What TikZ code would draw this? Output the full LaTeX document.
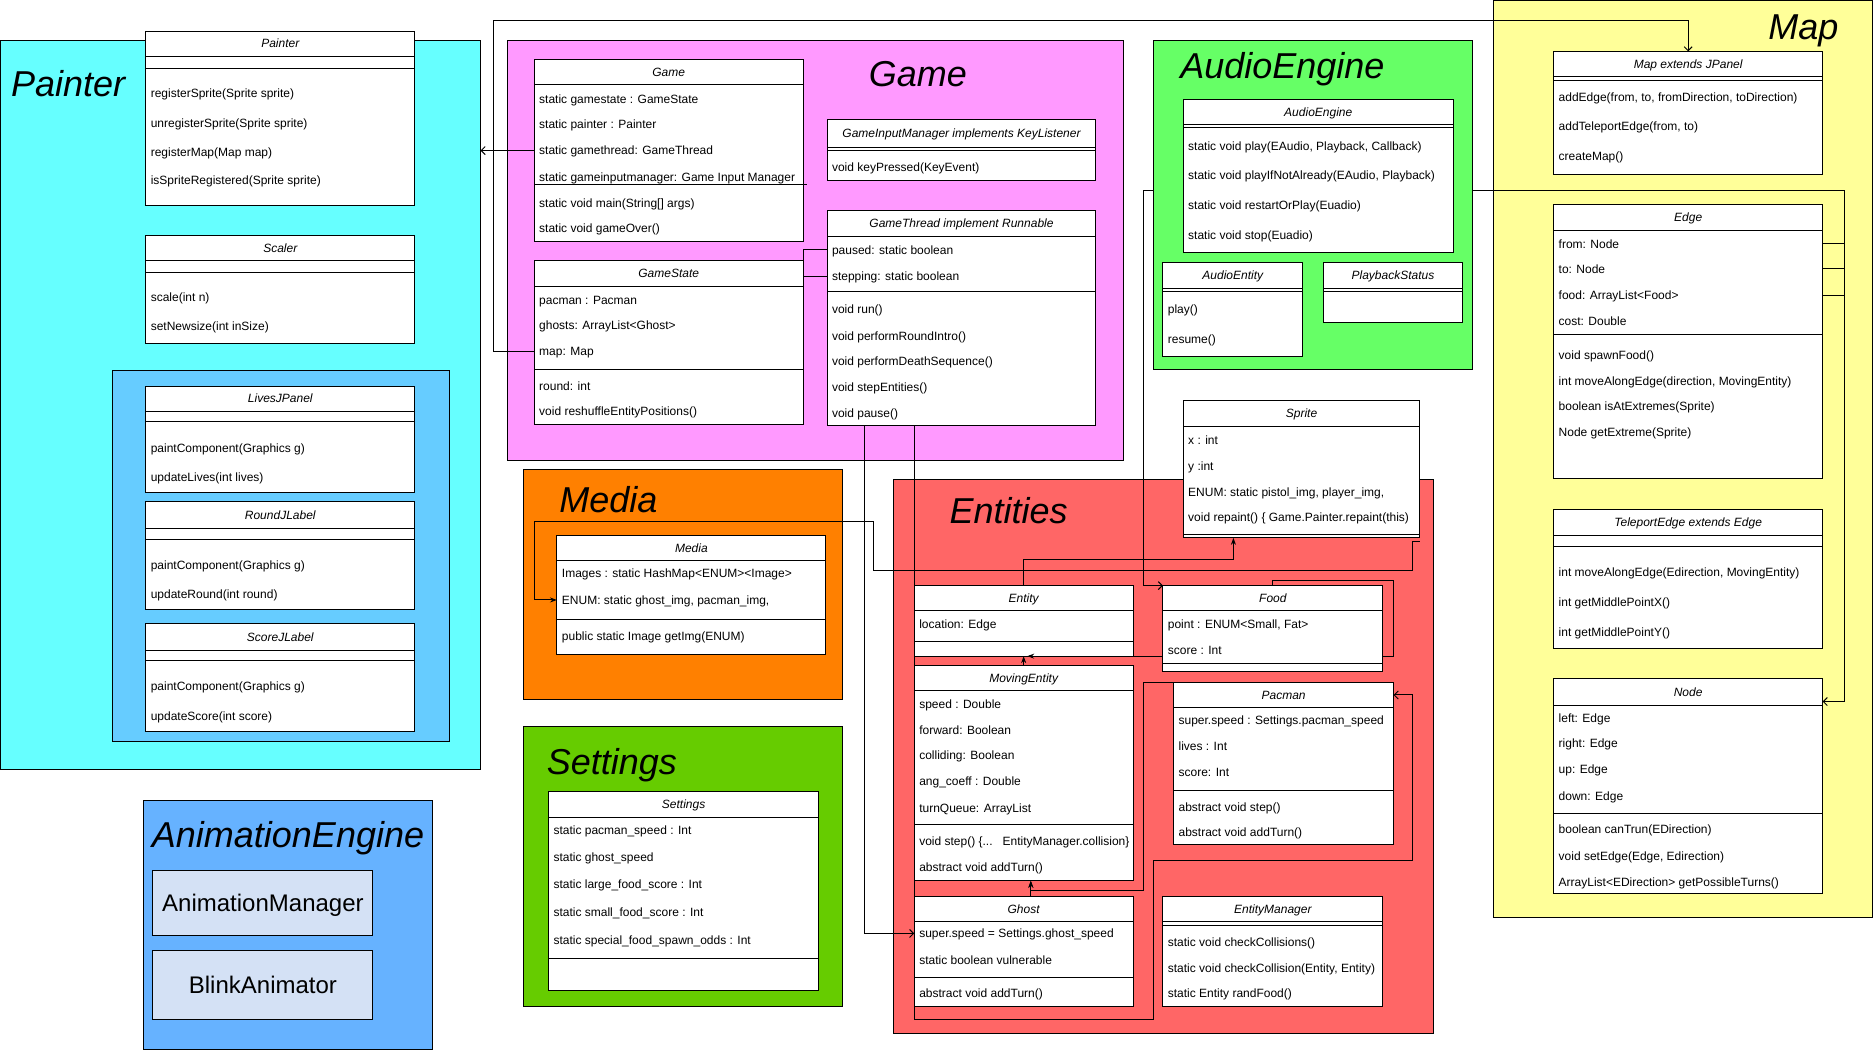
\documentclass[tikz,border=0pt]{standalone}
\usepackage{fontspec}
\setmainfont{Liberation Sans}
\usetikzlibrary{fit,calc,arrows.meta}
\definecolor{colpainter}{HTML}{66FFFF}
\definecolor{colhud}{HTML}{66CCFF}
\definecolor{colanim}{HTML}{66B2FF}
\definecolor{colanimbox}{HTML}{D4E1F5}
\definecolor{colgame}{HTML}{FF99FF}
\definecolor{colaudio}{HTML}{66FF66}
\definecolor{colmap}{HTML}{FFFF99}
\definecolor{colmedia}{HTML}{FF8000}
\definecolor{colsettings}{HTML}{66CC00}
\definecolor{colentities}{HTML}{FF6666}

% package frame: name, x1, y1, x2, y2, colour
\newcommand{\umlpkg}[6]{\node[pkg, fill=#6, fit={(#2,#3)(#4,#5)}] (#1) {};}
% class box: name, x1, y1, x2, y2, header bottom, title
\newcommand{\umlclass}[7]{%
  \node[classbox, fit={(#2,#3)(#4,#5)}] (#1) {};
  \draw[classline] (#2,#6) -- (#4,#6);
  \node[classtitle] (#1-t) at ($(#2,#3)!.5!(#4,#6)$) {#7};}
% separator: x1, x2, y
\newcommand{\umlsep}[3]{\draw[classline] (#1,#3) -- (#2,#3);}
% rows: prefix, x, list of y/text
\newcommand{\umlrows}[3]{%
  \foreach \ry/\rt [count=\ri] in {#3} {\node[row] (#1-\ri) at (#2,\ry) {\rt};}}

\begin{document}
\begin{tikzpicture}[x=1.1952pt, y=-1.1952pt,
    pkg/.style={draw, line width=1pt, inner sep=0pt, outer sep=0pt},
    pkgtitle/.style={font=\fontsize{36}{40}\selectfont\itshape, inner sep=0pt, text height=25.8pt, text depth=0pt},
    classbox/.style={draw, fill=white, line width=1pt, inner sep=0pt, outer sep=0pt},
    classline/.style={line width=1pt},
    classtitle/.style={font=\fontsize{12}{14}\selectfont\itshape, inner sep=0pt, text height=8.6pt, text depth=0pt},
    row/.style={anchor=west, font=\fontsize{12}{14}\selectfont, inner sep=0pt, text height=8.6pt, text depth=0pt},
    animbox/.style={draw, fill=colanimbox, line width=1pt, inner sep=0pt},
    animtext/.style={font=\fontsize{24}{28}\selectfont, inner sep=0pt, text height=17.2pt, text depth=0pt},
    assoc/.style={line width=1pt, -{Straight Barb[length=4pt,width=8pt]}},
    inherit/.style={line width=1pt, -{Stealth[length=7pt,width=5pt]}},
    link/.style={line width=1pt}]

  \fill[white] (0,0) rectangle (1568,879);
  \useasboundingbox (0,0) rectangle (1568,879);

  % Painter
  \umlpkg{painterpkg}{0}{34}{402}{644}{colpainter}
  \node[pkgtitle] (paintertitle) at (57,70) {Painter};
  \umlclass{painter}{122}{26}{347}{172}{47}{Painter}
  \umlsep{122}{347}{57}
  \umlrows{pt}{126}{78/registerSprite(Sprite sprite), 103/unregisterSprite(Sprite sprite),
    127/registerMap(Map map), 151/isSpriteRegistered(Sprite sprite)}
  \umlclass{scaler}{122}{197}{347}{287}{218}{Scaler}
  \umlsep{122}{347}{228}
  \umlrows{sc}{126}{249/scale(int n), 273/setNewsize(int inSize)}
  \umlpkg{hudpkg}{94}{310}{376}{620}{colhud}
  \umlclass{lives}{122}{323}{347}{412}{344}{LivesJPanel}
  \umlsep{122}{347}{353}
  \umlrows{lv}{126}{375/paintComponent(Graphics g), 399/updateLives(int lives)}
  \umlclass{round}{122}{420}{347}{510}{442}{RoundJLabel}
  \umlsep{122}{347}{451}
  \umlrows{rd}{126}{473/paintComponent(Graphics g), 497/updateRound(int round)}
  \umlclass{score}{122}{522}{347}{612}{544}{ScoreJLabel}
  \umlsep{122}{347}{553}
  \umlrows{scl}{126}{574/paintComponent(Graphics g), 599/updateScore(int score)}

  % AnimationEngine
  \umlpkg{animpkg}{120}{670}{362}{878}{colanim}
  \node[pkgtitle] (animtitle) at (241,698) {AnimationEngine};
  \node[animbox, fit={(128,728)(312,783)}] (animmgr) {};
  \node[animtext] (animmgrtext) at (animmgr.center) {AnimationManager};
  \node[animbox, fit={(128,795)(312,853)}] (blink) {};
  \node[animtext] (blinktext) at (blink.center) {BlinkAnimator};

  % Game
  \umlpkg{gamepkg}{425}{34}{940}{385}{colgame}
  \node[pkgtitle] (gametitle) at (768,62) {Game};
  \umlclass{game}{447}{50}{672}{202}{71}{Game}
  \umlsep{447}{675}{154}
  \umlrows{gm}{451}{83/static gamestate : GameState, 104/static painter : Painter,
    126/static gamethread: GameThread, 148/static gameinputmanager: Game Input Manager,
    170/{static void main(String[] args)}, 191/static void gameOver()}
  \umlclass{gamestate}{447}{218}{672}{355}{240}{GameState}
  \umlsep{447}{672}{309}
  \umlrows{gs}{451}{251/pacman : Pacman, 272/ghosts: ArrayList<Ghost>, 294/map: Map,
    323/round: int, 344/void reshuffleEntityPositions()}
  \umlclass{input}{692}{100}{917}{151}{123}{GameInputManager implements KeyListener}
  \umlsep{692}{917}{126}
  \umlrows{gi}{696}{140/void keyPressed(KeyEvent)}
  \umlclass{gamethread}{692}{176}{917}{356}{198}{GameThread implement Runnable}
  \umlsep{692}{917}{244}
  \umlrows{gt}{696}{209/paused: static boolean, 231/stepping: static boolean, 259/void run(),
    281/void performRoundIntro(), 302/void performDeathSequence(), 324/void stepEntities(),
    346/void pause()}

  % Map
  \umlpkg{mappkg}{1250}{0.5}{1567}{768}{colmap}
  \node[pkgtitle] (maptitle) at (1509,22) {Map};
  \umlclass{mapclass}{1300}{43}{1525}{146}{64}{Map extends JPanel}
  \umlsep{1300}{1525}{67}
  \umlrows{mp}{1304}{81/{addEdge(from, to, fromDirection, toDirection)},
    106/{addTeleportEdge(from, to)}, 131/createMap()}
  \umlclass{edge}{1300}{171}{1525}{400}{193}{Edge}
  \umlsep{1300}{1525}{280}
  \umlrows{ed}{1304}{204/from: Node, 225/to: Node, 247/food: ArrayList<Food>, 269/cost: Double,
    297/void spawnFood(), 319/{int moveAlongEdge(direction, MovingEntity)},
    340/boolean isAtExtremes(Sprite), 362/Node getExtreme(Sprite)}
  \umlclass{teleport}{1300}{426}{1525}{543}{448}{TeleportEdge extends Edge}
  \umlsep{1300}{1525}{457}
  \umlrows{te}{1304}{479/{int moveAlongEdge(Edirection, MovingEntity)},
    504/int getMiddlePointX(), 529/int getMiddlePointY()}
  \umlclass{node}{1300}{568}{1525}{748}{590}{Node}
  \umlsep{1300}{1525}{681}
  \umlrows{nd}{1304}{601/left: Edge, 622/right: Edge, 644/up: Edge, 666/down: Edge,
    694/boolean canTrun(EDirection), 716/{void setEdge(Edge, Edirection)},
    738/ArrayList<EDirection> getPossibleTurns()}

  % Media
  \umlpkg{mediapkg}{438}{393}{705}{585}{colmedia}
  \node[pkgtitle] (mediatitle) at (509,418) {Media};
  \umlclass{media}{466}{448}{691}{548}{469}{Media}
  \umlsep{466}{691}{518}
  \umlrows{md}{470}{480/Images : static HashMap<ENUM><Image>,
    502/{ENUM: static ghost\_img, pacman\_img,}, 532/public static Image getImg(ENUM)}

  % Settings
  \umlpkg{settingspkg}{438}{608}{705}{842}{colsettings}
  \node[pkgtitle] (settingstitle) at (512,637) {Settings};
  \umlclass{settings}{459}{662}{685}{829}{684}{Settings}
  \umlsep{459}{685}{802}
  \umlrows{st}{463}{695/static pacman\_speed : Int, 717/static ghost\_speed,
    740/static large\_food\_score : Int, 763/static small\_food\_score : Int,
    787/static special\_food\_spawn\_odds : Int}

  % Entities
  \umlpkg{entitiespkg}{748}{401}{1199}{865}{colentities}
  \node[pkgtitle] (entitiestitle) at (844,427) {Entities};
  \umlclass{sprite}{990}{335}{1188}{450}{357}{Sprite}
  \umlsep{990}{1188}{447}
  \umlrows{sp}{994}{368/x : int, 390/y :int, 412/{ENUM: static pistol\_img, player\_img,},
    433/void repaint() \{ Game.Painter.repaint(this)}
  \umlclass{entity}{765}{490}{948}{549}{511}{Entity}
  \umlsep{765}{948}{537}
  \umlrows{en}{769}{522/location: Edge}
  \umlclass{food}{973}{490}{1157}{562}{511}{Food}
  \umlsep{973}{1157}{555}
  \umlrows{fd}{977}{522/{point : ENUM<Small, Fat>}, 544/score : Int}
  \umlclass{movingentity}{765}{557}{948}{737}{578}{MovingEntity}
  \umlsep{765}{948}{690}
  \umlrows{me}{769}{589/speed : Double, 611/forward: Boolean, 632/colliding: Boolean,
    654/ang\_coeff : Double, 676/turnQueue: ArrayList,
    704/{void step() \{{.}{.}{.}\ \ \ EntityManager.collision\}}, 726/abstract void addTurn()}
  \umlclass{pacman}{982}{571}{1166}{707}{592}{Pacman}
  \umlsep{982}{1166}{661}
  \umlrows{pc}{986}{603/super.speed : Settings.pacman\_speed, 624/lives : Int, 646/score: Int,
    675/abstract void step(), 696/abstract void addTurn()}
  \umlclass{ghost}{765}{750}{948}{842}{771}{Ghost}
  \umlsep{765}{948}{818}
  \umlrows{gh}{769}{781/super.speed = Settings.ghost\_speed, 803/static boolean vulnerable,
    831/abstract void addTurn()}
  \umlclass{entitymgr}{973}{750}{1157}{842}{771}{EntityManager}
  \umlsep{973}{1157}{774}
  \umlrows{em}{977}{788/static void checkCollisions(), 810/{static void checkCollision(Entity, Entity)},
    831/static Entity randFood()}

  % connectors
  \coordinate (gsmapbend) at (413,17);
  \coordinate (gtghost) at (723,356);
  \coordinate (gtpacman) at (765,356);
  \draw[assoc] (game.west |- gm-3) -- (painterpkg.east |- gm-3);
  \draw[assoc] (gamestate.west |- gs-3) -| (gsmapbend) -| (mapclass.north);
  \draw[link] (gamethread.west |- gt-1) -| (gamestate.north east);
  \draw[link] (gamethread.west |- gt-2) -- (gamestate.east |- gt-2);
  \draw[assoc] (gtghost) |- (ghost.west |- gh-1);
  \draw[assoc] (gtpacman) |- (965,853) |- (1182,720) |- (pacman.east |- pacman-t);
  \draw[inherit] (pacman.north west) -| (957,745) -| ($(movingentity.south)+(6,0)$);
  \draw[inherit] ($(ghost.north)+(6,0)$) -- ($(movingentity.south)+(6,0)$);
  \draw[inherit] (movingentity.north) -- (entity.south);
  \draw[inherit] (food.west |- entity.south) -- ($(entity.south)+(3,0)$);
  \draw[inherit] (entity.north) -- ++(0,-22) -| ($(sprite.south)+(-57,0)$);
  \draw[link] (food.north) -- ++(0,-4) -| ($(food.east |- entity.south)+(9,0)$) -- (food.east |- entity.south);
  \draw[inherit] ($(sprite.south east)+(0,3)$) -| (1182,477) -| (731,436) -| (447,502) -- (media.west |- md-2);
  \draw[assoc] (edge.east |- ed-3) -| (1543,159) -| (957,490) -- (food.north west);
  \draw[assoc] (edge.east |- ed-1) -| ($(node.north east)+(18,19)$) -- ($(node.north east)+(0,19)$);
  \draw[link] (edge.east |- ed-2) -- ++(18,0);

  % AudioEngine
  \umlpkg{audiopkg}{965}{34}{1232}{309}{colaudio}
  \node[pkgtitle] (audiotitle) at (1073,55) {AudioEngine};
  \umlclass{audio}{990}{83}{1216}{211}{104}{AudioEngine}
  \umlsep{990}{1216}{107}
  \umlrows{au}{994}{122/{static void play(EAudio, Playback, Callback)},
    147/{static void playIfNotAlready(EAudio, Playback)},
    172/static void restartOrPlay(Euadio), 197/static void stop(Euadio)}
  \umlclass{audioentity}{973}{220}{1090}{298}{241}{AudioEntity}
  \umlsep{973}{1090}{244}
  \umlrows{ae}{977}{259/play(), 284/resume()}
  \umlclass{playback}{1107}{220}{1224}{270}{241}{PlaybackStatus}
  \umlsep{1107}{1224}{244}
\end{tikzpicture}
\end{document}
